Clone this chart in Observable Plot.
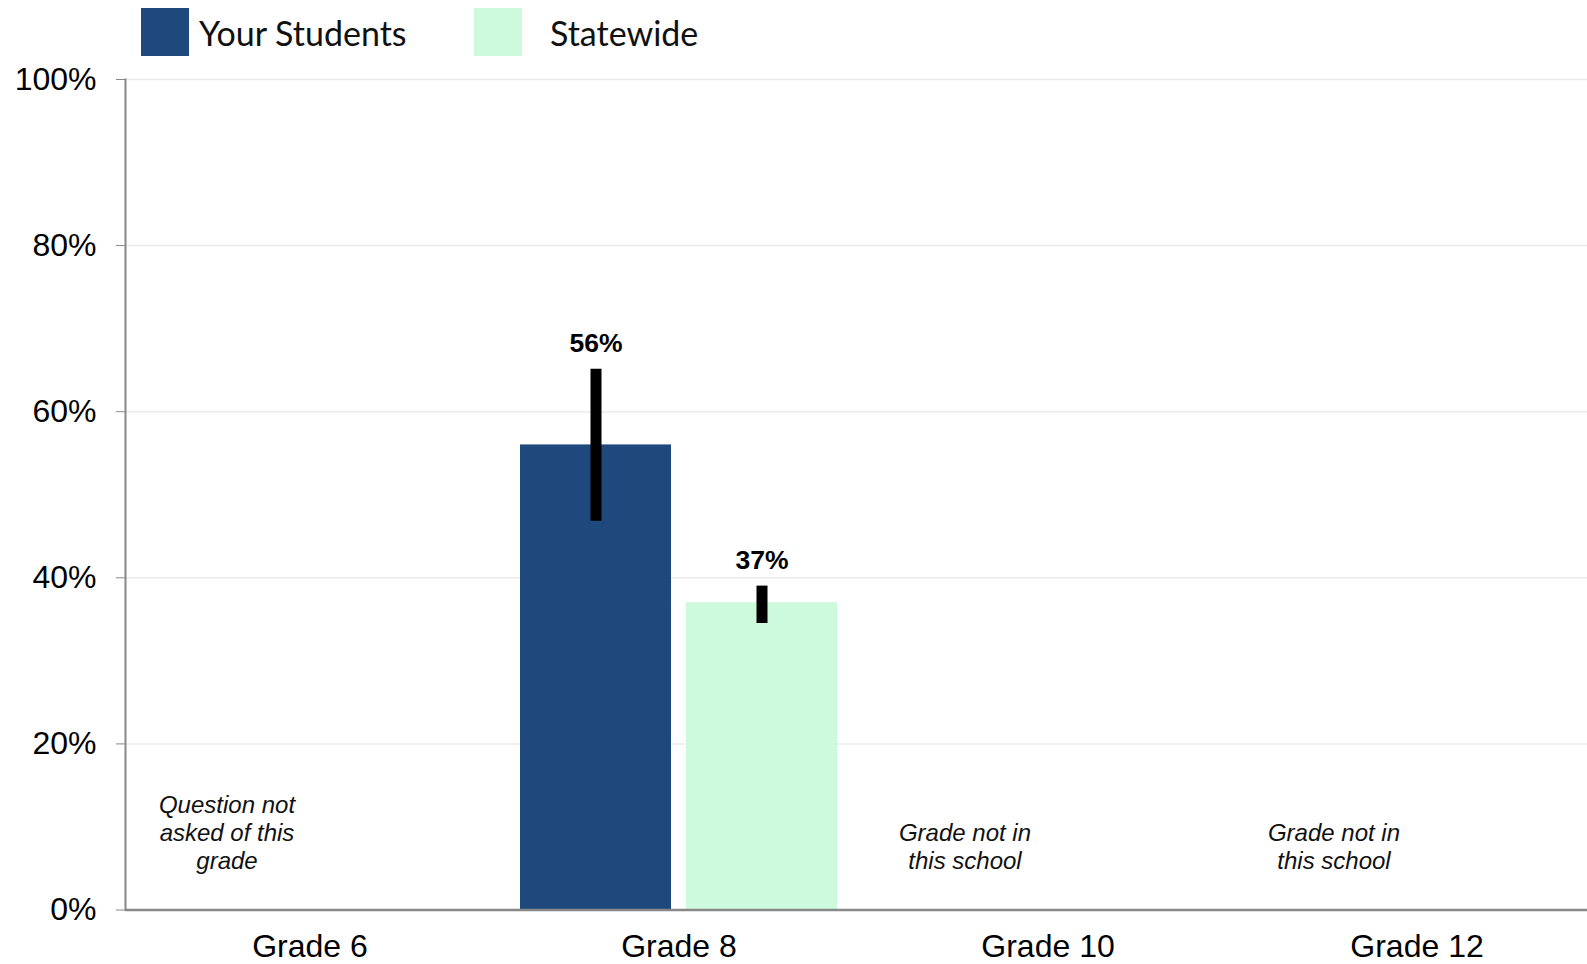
<!DOCTYPE html>
<html>
<head>
<meta charset="utf-8">
<script src="https://cdn.jsdelivr.net/npm/d3@7"></script>
<script src="https://cdn.jsdelivr.net/npm/@observablehq/plot@0.6"></script>
<style>
  html, body { margin: 0; padding: 0; background: #fff; overflow: hidden; }
  #legend { position: relative; height: 60px; font-family: Lato, "Open Sans", sans-serif; font-size: 34px; color: #111; }
  .item { position: absolute; top: 8px; display: flex; align-items: center; height: 48px; }
  .sw { width: 48px; height: 48px; }
  #chart { width: 1602px; }
  #chart svg { display: block; max-width: none; width: 1602px; height: 904px; }
</style>
</head>
<body>
<div id="legend"></div>
<div id="chart"></div>
<script>
const grades = ["Grade 6", "Grade 8", "Grade 10", "Grade 12"];
const series = ["Your Students", "Statewide"];
const seriesColors = ["#1F497D", "#CDF9DC"];

const barGrades = ["Grade 8", "Grade 8"];
const barSeries = ["Your Students", "Statewide"];
const barValues = [56, 37];
const errLow = [46.8, 34.5];
const errHigh = [65.1, 39.0];

const noteGrades = ["Grade 6", "Grade 10", "Grade 12"];
const noteTexts = ["Question not\nasked of this\ngrade", "Grade not in\nthis school", "Grade not in\nthis school"];
const noteY = 4.9;

const yTicks = [0, 20, 40, 60, 80, 100];

// legend
const legend = document.getElementById("legend");
const legendLefts = [141, 474];
const textGaps = [10, 28];
series.forEach((s, i) => {
  const it = document.createElement("div");
  it.className = "item";
  it.style.left = legendLefts[i] + "px";
  const sw = document.createElement("div");
  sw.className = "sw";
  sw.style.background = seriesColors[i];
  const tx = document.createElement("span");
  tx.textContent = s;
  tx.style.marginLeft = textGaps[i] + "px";
  it.appendChild(sw); it.appendChild(tx);
  legend.appendChild(it);
});

const bars = barValues.map((v, i) => ({grade: barGrades[i], series: barSeries[i], value: v, lo: errLow[i], hi: errHigh[i]}));
const notes = noteTexts.map((t, i) => ({grade: noteGrades[i], series: series[0], text: t, y: noteY}));

const chart = Plot.plot({
  width: 1602,
  height: 904,
  marginLeft: 124,
  marginRight: 1,
  marginTop: 19,
  marginBottom: 54.5,
  style: {fontFamily: "'Liberation Sans', Arial, sans-serif", background: "#fff"},
  fx: {domain: grades, padding: 0, label: null},
  x: {domain: series, paddingInner: 0.0915, paddingOuter: 0.157, axis: null},
  y: {domain: [0, 100], label: null},
  color: {domain: series, range: seriesColors},
  marks: [
    Plot.gridY(yTicks, {stroke: "#ececec", strokeOpacity: 1, strokeWidth: 1.5}),
    Plot.barY(bars, {fx: "grade", x: "series", y: "value", fill: "series"}),
    Plot.ruleX(bars, {fx: "grade", x: "series", y1: "lo", y2: "hi", stroke: "#000", strokeWidth: 11}),
    Plot.text(bars, {fx: "grade", x: "series", y: "hi", text: d => Math.round(d.value) + "%", dy: -26, fontSize: 26.5, fontWeight: "bold", fill: "#000"}),
    Plot.text(notes, {fx: "grade", x: "series", y: "y", text: "text", lineAnchor: "bottom", lineHeight: 1.18, fontSize: 24, fontStyle: "italic", fill: "#111"}),
    Plot.ruleY([0], {stroke: "#888", strokeWidth: 2.5}),
    Plot.frame({anchor: "left", stroke: "#888", strokeWidth: 2, facetAnchor: "left"}),
    Plot.axisY(yTicks, {tickFormat: d => d + "%", tickSize: 9, tickPadding: 20, fontSize: 32, stroke: "#888", fill: "#000", label: null}),
    Plot.axisFx({anchor: "bottom", tickSize: 0, tickPadding: 24, fontSize: 32, fill: "#000", label: null})
  ]
});
document.getElementById("chart").appendChild(chart);
</script>
</body>
</html>
